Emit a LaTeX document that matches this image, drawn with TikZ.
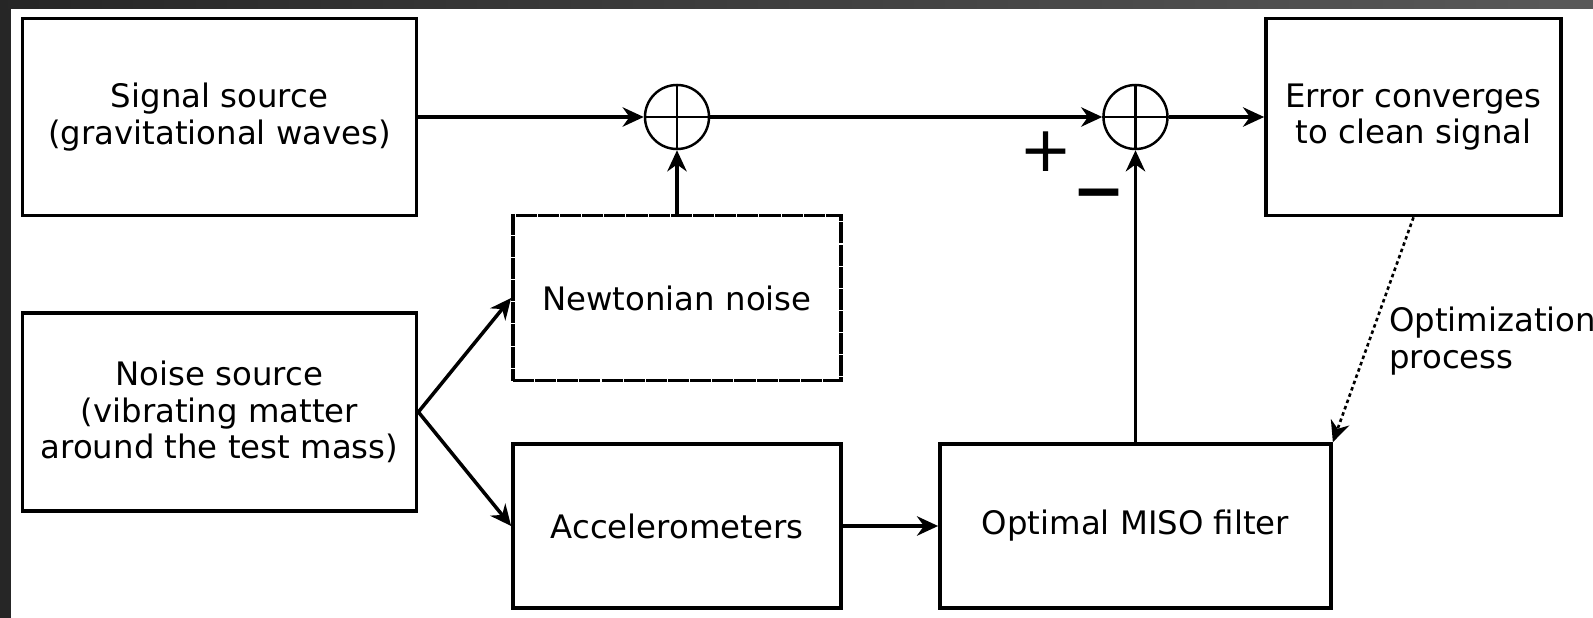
\documentclass[tikz,border=0pt]{standalone}
\usepackage{fontspec}
\setmainfont{DejaVu Sans}
\usepackage{tikz}
\usetikzlibrary{arrows.meta,positioning,calc}
\tikzset{
  blk/.style={draw,line width=1pt,align=center,font=\fontsize{9.2}{10.4}\selectfont},
  sumnode/.style={draw,circle,line width=0.7pt,minimum size=0.64cm,inner sep=0pt},
  conn/.style={line width=1pt,-{Stealth[length=6pt,width=5.5pt]}}
}
\begin{document}
\begin{tikzpicture}[x=0.01cm,y=-0.01cm]
% frame of the slide
\fill[white](0,0)rectangle(1593,618);
\fill[black!85](0,0)rectangle(11,618);
\shade[left color=black!85,right color=black!65](0,0)rectangle(1593,8);
\useasboundingbox(0,0)rectangle(1593,618);
% blocks
\node[blk,minimum width=3.94cm,minimum height=1.97cm](sig)at(219.5,117){Signal source\\(gravitational waves)};
\node[blk,minimum width=3.94cm,minimum height=1.98cm](src)at(219.5,412){Noise source\\(vibrating matter\\around the test mass)};
\node[blk,minimum width=2.95cm,minimum height=1.97cm](err)at(1413.5,117){Error converges\\to clean signal};
\node[blk,dash pattern=on 6pt off 0.3pt,minimum width=3.28cm,minimum height=1.65cm](nn)at(677,298){Newtonian noise};
\node[blk,minimum width=3.28cm,minimum height=1.64cm](acc)at(677,526){Accelerometers};
\node[blk,minimum width=3.91cm,minimum height=1.64cm](miso)at(1135.5,526){Optimal MISO filter};
% summing points
\node[sumnode](s1)at(677,117){};
\node[sumnode](s2)at(1135.5,117){};
\draw[line width=0.7pt](s1.north)--(s1.south)(s1.west)--(s1.east);
\draw[line width=0.7pt](s2.north)--(s2.south)(s2.west)--(s2.east);
\node[font=\fontsize{18}{18}\selectfont](plus)at(1046,152){+};
\node[font=\fontsize{18}{18}\bfseries\selectfont](minus)at(1099,201){−};
% signal flow
\draw[conn](sig)--(s1);
\draw[conn](s1)--(s2);
\draw[conn](s2)--(err);
\draw[conn](nn)--(s1);
\draw[conn](miso)--(s2);
\draw[conn](src.east)--(nn.west);
\draw[conn](src.east)--(acc.west);
\draw[conn](acc)--(miso);
\draw[line width=0.75pt,dash pattern=on 1pt off 0.9pt,-{Stealth[length=6pt,width=5.5pt]}](err.south)--(miso.north east)
  node[pos=0.55,right=2pt,align=left,font=\fontsize{9.2}{10.4}\selectfont](opt){Optimization\\process};
\end{tikzpicture}
\end{document}
